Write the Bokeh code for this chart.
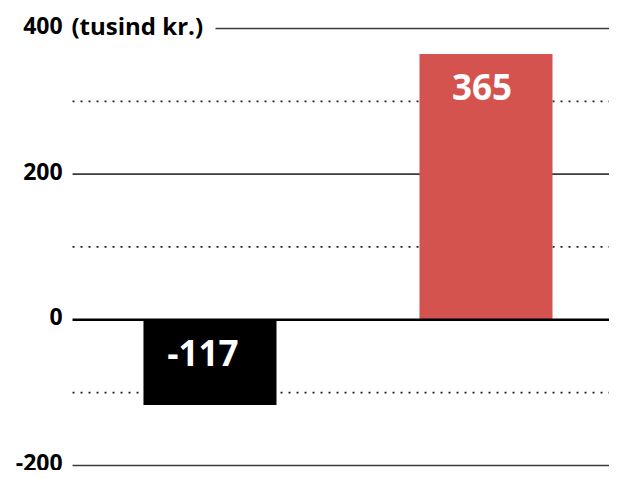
from bokeh.plotting import figure
from bokeh.models import Range1d, ColumnDataSource
from bokeh.core.properties import value
from bokeh.embed import file_html
from bokeh.resources import INLINE

# ---- data ----
categories = ["Kategori A", "Kategori B"]
values = [-117, 365]
bar_colors = ["#000000", "#d4534e"]
solid_ticks = [400, 200, 0, -200]
tick_labels = ["400", "200", "0", "-200"]
unit_label = "(tusind kr.)"
dotted_ticks = [300, 100, -100]

FONT = value("Open Sans")

# ---- layout constants (index units: 1 unit = 276 px) ----
X0, X1 = -0.759, 1.4475
Y0, Y1 = -206.9, 438.4
BAR_W = 0.482
LINE_START = -0.498
TOP_LINE_START = 0.02
LABEL_X = -0.534
UNIT_X = -0.5018
LABEL_DX = [-7, -4]

p = figure(width=609, height=470, output_backend="svg", toolbar_location=None,
           x_range=Range1d(X0, X1), y_range=Range1d(Y0, Y1), min_border=0,
           outline_line_color=None)
p.axis.visible = False
p.grid.visible = False
p.background_fill_color = "white"
p.border_fill_color = "white"

# dotted grid
for t in dotted_ticks:
    p.segment(x0=LINE_START, x1=X1, y0=t, y1=t, line_color="#222222",
              line_width=1.7, line_dash="2 6")

# solid grid (non-zero)
for t in solid_ticks:
    if t == 0:
        continue
    start = TOP_LINE_START if t == max(solid_ticks) else LINE_START
    p.segment(x0=start, x1=X1, y0=t, y1=t, line_color="#3a3a3a", line_width=1.6)

# bars
xs = list(range(len(categories)))
src = ColumnDataSource(dict(x=xs, top=[max(v, 0) for v in values],
                            bottom=[min(v, 0) for v in values],
                            color=bar_colors,
                            label=[str(v) for v in values],
                            ly=[max(v, 0) for v in values],
                            dx=LABEL_DX))
p.vbar(x="x", width=BAR_W, top="top", bottom="bottom", fill_color="color",
       line_color=None, source=src)

# zero line
p.segment(x0=LINE_START, x1=X1, y0=0, y1=0, line_color="#000000", line_width=2.6)

# bar labels
p.text(x="x", y="ly", text="label", source=src, text_color="white",
       text_font=FONT, text_font_style="bold", text_font_size="35px",
       text_align="center", text_baseline="middle", y_offset=33, x_offset="dx")

# tick labels
p.text(x=[LABEL_X] * len(solid_ticks), y=solid_ticks, text=tick_labels,
       text_font=FONT, text_font_style="bold", text_font_size="23px",
       text_color="#000000", text_align="right", text_baseline="middle",
       y_offset=-3)
p.text(x=[UNIT_X], y=[max(solid_ticks)], text=[unit_label], text_font=FONT,
       text_font_style="bold", text_font_size="24px", text_color="#000000",
       text_align="left", text_baseline="middle", y_offset=-3)

open("out.html", "w").write(file_html(p, INLINE))
